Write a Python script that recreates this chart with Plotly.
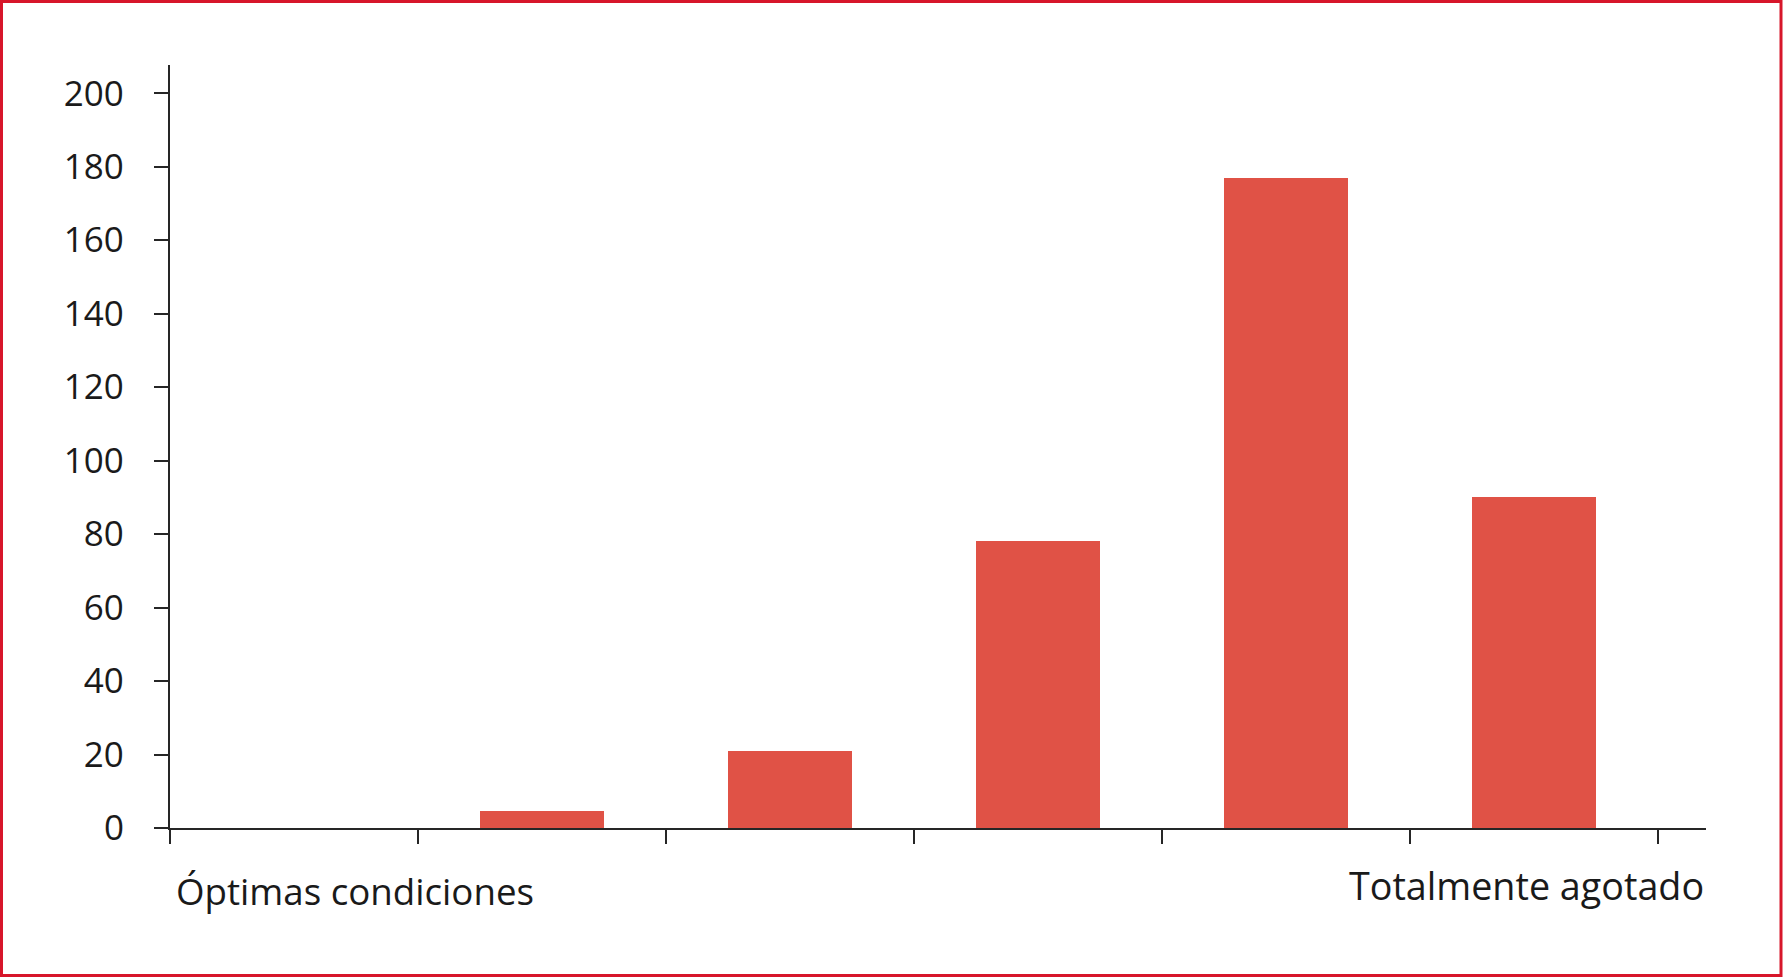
import plotly.graph_objects as go

# Data
categories = [0, 1, 2, 3, 4, 5]
values = [0, 4.5, 21, 78, 177, 90]
y_ticks = [0, 20, 40, 60, 80, 100, 120, 140, 160, 180, 200]
x_boundaries = [-0.5, 0.5, 1.5, 2.5, 3.5, 4.5, 5.5]
label_left = "Óptimas condiciones"
label_right = "Totalmente agotado"

BAR_COLOR = "rgb(224,82,70)"
AXIS_COLOR = "#262626"
TEXT_COLOR = "#1a1a1a"
BORDER_COLOR = "rgb(215,22,42)"
FONT = "Open Sans"

W, H = 1783, 979
ML, MR, MT, MB = 170, 77, 65, 151
pw = W - ML - MR
ph = H - MT - MB

fig = go.Figure()
fig.add_trace(go.Bar(
    x=categories, y=values, width=0.5,
    marker=dict(color=BAR_COLOR, line=dict(width=0)),
    hoverinfo="skip",
))

fig.update_layout(
    width=W, height=H,
    margin=dict(l=ML, r=MR, t=MT, b=MB, pad=0),
    paper_bgcolor="white", plot_bgcolor="white",
    showlegend=False,
    font=dict(family=FONT, size=35, color=TEXT_COLOR),
    bargap=0,
)

fig.update_xaxes(
    range=[-0.5, -0.5 + pw / 248.0],
    showgrid=False, zeroline=False,
    showline=True, linewidth=2.2, linecolor=AXIS_COLOR,
    tickmode="array", tickvals=x_boundaries,
    ticks="outside", ticklen=14, tickwidth=2, tickcolor=AXIS_COLOR,
    showticklabels=False,
)

fig.update_yaxes(
    range=[0, 207.7],
    showgrid=False, zeroline=False,
    showline=True, linewidth=2.2, linecolor=AXIS_COLOR,
    tickmode="array", tickvals=y_ticks,
    ticks="outside", ticklen=14, tickwidth=2, tickcolor=AXIS_COLOR,
    tickfont=dict(family=FONT, size=35, color=TEXT_COLOR),
    ticklabelstandoff=23,
)

def px_x(p):
    return (p - ML) / pw

def px_y(p):
    return (H - MB - p) / ph

fig.add_annotation(
    text=label_left, xref="paper", yref="paper",
    x=px_x(174), y=px_y(891), xanchor="left", yanchor="middle",
    showarrow=False, font=dict(family=FONT, size=36.7, color=TEXT_COLOR),
)
fig.add_annotation(
    text=label_right, xref="paper", yref="paper",
    x=px_x(1706), y=px_y(885), xanchor="right", yanchor="middle",
    showarrow=False, font=dict(family=FONT, size=37.7, color=TEXT_COLOR),
)

# Figure frame
fig.add_shape(
    type="rect", xref="paper", yref="paper",
    x0=px_x(1.5), x1=px_x(1781), y0=px_y(975.5), y1=px_y(1.5),
    line=dict(color=BORDER_COLOR, width=3), fillcolor="rgba(0,0,0,0)",
    layer="above",
)

fig.write_html(
    "out.html",
    config={"displayModeBar": False},
    post_script="document.body.style.margin='0';document.body.style.padding='0';",
)
